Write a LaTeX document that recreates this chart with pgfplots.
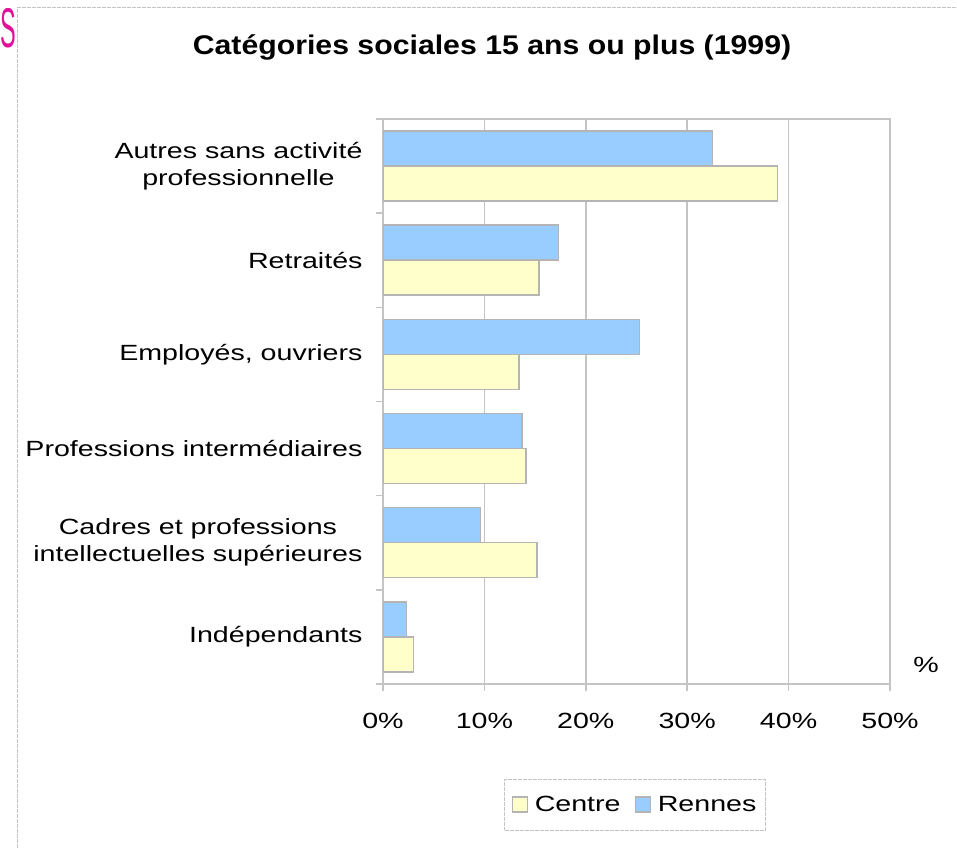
\documentclass[border=0pt]{standalone}
\usepackage{pgfplots}
\pgfplotsset{compat=1.18}
\usepackage{fontspec}
\setmainfont[FakeStretch=1.3]{Liberation Sans}
\newfontfamily\titlefont[FakeStretch=1.12]{Liberation Sans}
\newfontfamily\plainsans{Liberation Sans}

\definecolor{rennes}{HTML}{99CCFF}
\definecolor{centre}{HTML}{FFFFCC}
\definecolor{edge}{HTML}{B4B4B4}
\definecolor{gridc}{HTML}{C4C4C4}
\definecolor{pinkS}{HTML}{E0109A}

\pgfplotstableread{
y  centre rennes
0  3.0    2.3
1  15.2   9.6
2  14.1   13.7
3  13.4   25.3
4  15.4   17.3
5  38.9   32.5
}\cats

\begin{document}
\begin{tikzpicture}[x=1bp,y=1bp]
\useasboundingbox (0,0) rectangle (957,848);
% frame of the chart area
\draw[gridc, line width=1.5bp, dash pattern=on 4bp off 1bp] (17.5,0) -- (17.5,840.5) -- (957,840.5);
\node[anchor=north west, inner sep=0pt, text=pinkS, font=\plainsans\fontsize{56bp}{60bp}\selectfont] at (0.5,840) {\scalebox{0.42}[1]{S}};
\node[font=\titlefont\bfseries\fontsize{27bp}{32bp}\selectfont] at (492,801) {Catégories sociales 15 ans ou plus (1999)};
\node[font=\fontsize{22bp}{26bp}\selectfont] at (926,183) {\%};

\begin{axis}[
  at={(383bp,164bp)}, anchor=south west,
  scale only axis, width=507bp, height=565bp,
  xbar, bar width=35bp,
  xmin=0, xmax=50, ymin=-0.5, ymax=5.5,
  xtick={0,10,...,50},
  xticklabels={0\%,10\%,20\%,30\%,40\%,50\%},
  ytick={0,...,5},
  yticklabels={Indépendants,
    {Cadres et professions\\intellectuelles supérieures},
    Professions intermédiaires,
    {Employés, ouvriers},
    Retraités,
    {Autres sans activité\\professionnelle}},
  minor ytick={-0.5,0.5,...,5.5},
  xtick pos=bottom, ytick pos=left,
  tick align=outside,
  major tick length=7bp, minor tick length=7bp,
  ytick style={draw=none},
  minor y tick style={draw=gridc, line width=1.5bp},
  xtick style={draw=gridc, line width=1.5bp},
  xmajorgrids, grid style={draw=gridc, line width=1.5bp},
  axis line style={draw=gridc, line width=1.5bp},
  tick label style={font=\fontsize{22bp}{27bp}\selectfont, text=black},
  yticklabel style={align=center, xshift=-10bp},
  xticklabel style={yshift=-19bp},
  legend style={at={(0.497,-0.214)}, anchor=center, legend columns=2,
    draw=gridc, line width=1.5bp, dash pattern=on 4bp off 1bp,
    font=\fontsize{22bp}{26bp}\selectfont, inner xsep=7bp, inner ysep=15bp,
    /tikz/every odd column/.append style={column sep=5bp},
    /tikz/every even column/.append style={column sep=12bp}},
  legend image code/.code={\draw[#1, solid, line width=1.2bp] (0bp,-7bp) rectangle (15bp,8bp);},
]
\addplot[fill=centre, draw=edge, line width=1.5bp, bar shift=-17.5bp] table[x=centre, y=y] {\cats};
\addplot[fill=rennes, draw=edge, line width=1.5bp, bar shift=17.5bp] table[x=rennes, y=y] {\cats};
\legend{Centre, Rennes}
\end{axis}
\end{tikzpicture}
\end{document}
